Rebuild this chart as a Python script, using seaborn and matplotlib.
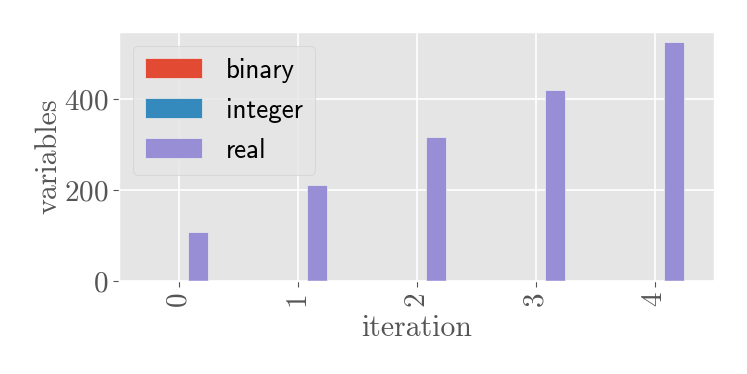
import matplotlib
matplotlib.use("Agg")
import matplotlib.pyplot as plt
import seaborn as sns
import pandas as pd

iterations = ["0", "1", "2", "3", "4"]
binary = [0, 0, 0, 0, 0]
integer = [0, 0, 0, 0, 0]
real = [107, 211, 316, 420, 524]
series_names = ["binary", "integer", "real"]
colors = ["#E24A33", "#348ABD", "#988ED5"]

rows = []
for name, vals in zip(series_names, [binary, integer, real]):
    for it, v in zip(iterations, vals):
        rows.append({"iteration": it, "variables": v, "type": name})
df = pd.DataFrame(rows)

plt.style.use("ggplot")
plt.rcParams["axes.unicode_minus"] = False
plt.rcParams["axes.formatter.use_mathtext"] = True

fig = plt.figure(figsize=(7.47, 3.74), dpi=100)
ax = fig.add_axes([119/747, 1-281/374, (714-119)/747, (281-32)/374])

sns.barplot(data=df, x="iteration", y="variables", hue="type",
            hue_order=series_names, palette=colors, order=iterations,
            width=0.5, errorbar=None, edgecolor="#EEEEEE", linewidth=0.5,
            saturation=1, ax=ax)

ax.set_xlim(-0.5, 4.5)
ax.set_ylim(0, 547)
ax.set_yticks([0, 200, 400])
ax.grid(True, axis="both", color="white", linewidth=1.2)
ax.set_axisbelow(True)
ax.set_xlabel("iteration", family="cmr10", fontsize=21.5, color="#555555", labelpad=6)
ax.set_ylabel("variables", family="cmr10", fontsize=21.5, color="#555555", labelpad=1)
for lab in ax.get_xticklabels():
    lab.set_family("cmr10")
    lab.set_fontsize(21)
    lab.set_rotation(90)
    lab.set_color("#555555")
for lab in ax.get_yticklabels():
    lab.set_family("cmr10")
    lab.set_fontsize(21)
    lab.set_color("#555555")
ax.tick_params(axis="both", colors="#555555", length=4)

leg = ax.legend(loc="upper left", prop={"family": "cmss10", "size": 19.5},
                handlelength=2.1, handleheight=0.75, labelspacing=0.55,
                handletextpad=0.9, borderpad=0.45, frameon=True)
leg.get_frame().set_edgecolor("#CCCCCC")
leg.get_frame().set_facecolor("#E5E5E5")
for t in leg.get_texts():
    t.set_color("black")

fig.savefig("out.png", dpi=100)
